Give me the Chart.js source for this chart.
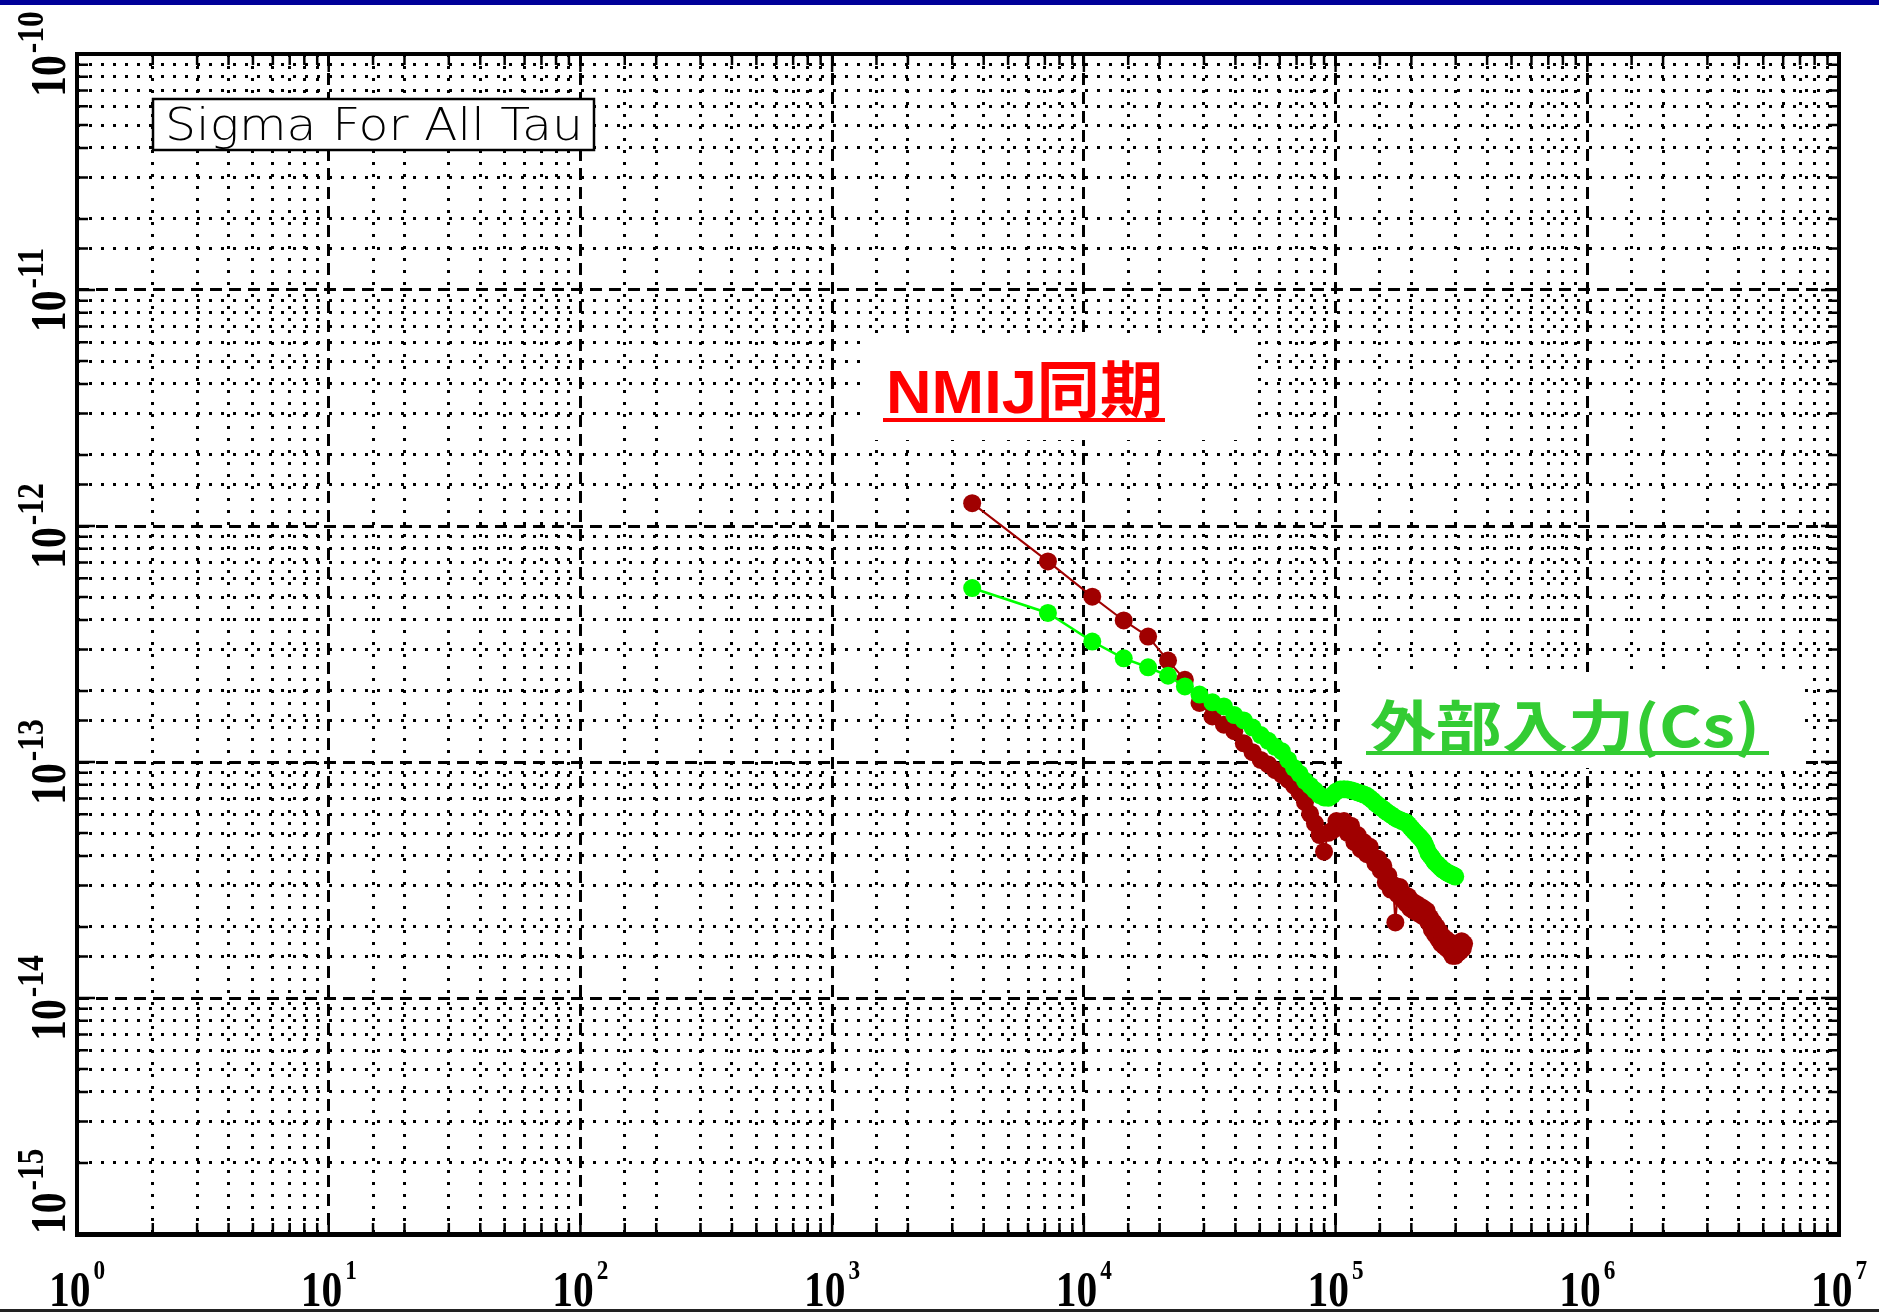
<!DOCTYPE html>
<html lang="ja">
<head>
<meta charset="UTF-8">
<title>Sigma For All Tau</title>
<script src="https://cdn.jsdelivr.net/npm/chart.js"></script>
<style>
  html, body { margin: 0; padding: 0; background: #fff; }
  #wrap { width: 1879px; height: 1312px; }
</style>
</head>
<body>
<div id="wrap"><canvas id="adev" width="1879" height="1312"></canvas></div>
<script>
// averaging time tau [s]
const tau = [3600, 7200, 10800, 14400, 18000, 21600, 25200, 28800, 32400, 36000,
  39600, 43200, 46800, 50400, 54000, 57600, 61200, 64800, 68400, 72000,
  75600, 79200, 82800, 86400, 90000, 93600, 97200, 100800, 104400, 108000,
  111600, 115200, 118800, 122400, 126000, 129600, 133200, 136800, 140400, 144000,
  147600, 151200, 154800, 158400, 162000, 165600, 169200, 172800, 176400, 180000,
  183600, 187200, 190800, 194400, 198000, 201600, 205200, 208800, 212400, 216000,
  219600, 223200, 226800, 230400, 234000, 237600, 241200, 244800, 248400, 252000,
  255600, 259200, 262800, 266400, 270000, 273600, 277200, 280800, 284400, 288000,
  291600, 295200, 298800, 302400, 306000, 309600, 313200, 316800, 320400, 324000];

// NMIJ同期 (dark red)
const sigmaNmij = [1.25e-12, 7.08e-13, 5.02e-13, 3.98e-13, 3.40e-13, 2.69e-13, 2.23e-13, 1.78e-13, 1.56e-13, 1.44e-13,
  1.35e-13, 1.20e-13, 1.10e-13, 1.02e-13, 9.77e-14, 9.23e-14, 8.83e-14, 8.41e-14, 7.94e-14, 7.41e-14,
  6.76e-14, 6.03e-14, 5.50e-14, 4.90e-14, 4.17e-14, 5.01e-14, 5.13e-14, 5.62e-14, 5.37e-14, 5.62e-14,
  5.01e-14, 5.37e-14, 4.57e-14, 4.90e-14, 4.27e-14, 4.57e-14, 4.07e-14, 4.37e-14, 3.98e-14, 3.72e-14,
  3.89e-14, 3.47e-14, 3.63e-14, 3.09e-14, 3.31e-14, 2.88e-14, 3.02e-14, 2.09e-14, 2.75e-14, 2.95e-14,
  2.63e-14, 2.75e-14, 2.51e-14, 2.69e-14, 2.40e-14, 2.57e-14, 2.34e-14, 2.51e-14, 2.29e-14, 2.45e-14,
  2.24e-14, 2.40e-14, 2.19e-14, 2.34e-14, 2.09e-14, 2.19e-14, 1.95e-14, 2.09e-14, 1.86e-14, 2.00e-14,
  1.78e-14, 1.91e-14, 1.70e-14, 1.82e-14, 1.66e-14, 1.78e-14, 1.62e-14, 1.74e-14, 1.58e-14, 1.70e-14,
  1.51e-14, 1.62e-14, 1.51e-14, 1.66e-14, 1.55e-14, 1.70e-14, 1.58e-14, 1.74e-14, 1.62e-14, 1.70e-14];

// 外部入力(Cs) (green)
const sigmaCs = [5.46e-13, 4.28e-13, 3.24e-13, 2.75e-13, 2.52e-13, 2.32e-13, 2.09e-13, 1.93e-13, 1.79e-13, 1.72e-13,
  1.58e-13, 1.50e-13, 1.40e-13, 1.30e-13, 1.23e-13, 1.16e-13, 1.11e-13, 1.02e-13, 9.44e-14, 8.91e-14,
  8.32e-14, 7.94e-14, 7.59e-14, 7.24e-14, 7.08e-14, 7.05e-14, 7.24e-14, 7.50e-14, 7.64e-14, 7.67e-14,
  7.64e-14, 7.60e-14, 7.52e-14, 7.43e-14, 7.36e-14, 7.28e-14, 7.19e-14, 7.03e-14, 6.87e-14, 6.70e-14,
  6.56e-14, 6.43e-14, 6.31e-14, 6.18e-14, 6.08e-14, 5.98e-14, 5.89e-14, 5.79e-14, 5.73e-14, 5.68e-14,
  5.62e-14, 5.58e-14, 5.55e-14, 5.43e-14, 5.31e-14, 5.19e-14, 5.08e-14, 4.99e-14, 4.89e-14, 4.80e-14,
  4.70e-14, 4.61e-14, 4.45e-14, 4.28e-14, 4.11e-14, 4.02e-14, 3.94e-14, 3.85e-14, 3.76e-14, 3.71e-14,
  3.66e-14, 3.60e-14, 3.55e-14, 3.50e-14, 3.47e-14, 3.44e-14, 3.40e-14, 3.38e-14, 3.36e-14, 3.33e-14,
  3.32e-14, 3.30e-14, 3.27e-14];

const seriesNames = ['NMIJ同期', '外部入力(Cs)'];
const xTickLabels = ['10^0', '10^1', '10^2', '10^3', '10^4', '10^5', '10^6', '10^7'];
const yTickLabels = ['10^-10', '10^-11', '10^-12', '10^-13', '10^-14', '10^-15'];
const boxTitle = 'Sigma For All Tau';

// ---- helpers ----
const isMajor = v => Math.abs(Math.log10(v) - Math.round(Math.log10(v))) < 1e-6;
const labelFor = (labels, v) => labels.find(l => parseInt(l.split('^')[1]) === Math.round(Math.log10(v)));

const SX = 0.83;
const BASE_FONT = 'bold 50px "Liberation Serif", serif';
const X_SUP = { font: 'bold 28px "Liberation Serif", serif', raise: 27, gap: 3 };
const Y_SUP = { font: 'bold 38px "Liberation Serif", serif', raise: 22, gap: 2 };

function measurePow(ctx, lbl, sup) {
  const parts = lbl.split('^');
  const b = parts[0], es = parts[1];
  ctx.font = BASE_FONT;
  const wb = ctx.measureText(b).width * SX;
  ctx.font = sup.font;
  const we = ctx.measureText(es).width * SX;
  return { b, es, wb, we, total: wb + sup.gap + we };
}
function paintPow(ctx, m, sup) {
  ctx.save(); ctx.scale(SX, 1); ctx.font = BASE_FONT; ctx.fillText(m.b, 0, 0); ctx.restore();
  ctx.save(); ctx.translate(m.wb + sup.gap, -sup.raise); ctx.scale(SX, 1);
  ctx.font = sup.font; ctx.fillText(m.es, 0, 0); ctx.restore();
}
function fitText(ctx, text, font, color, x, base, width) {
  ctx.save();
  ctx.font = font;
  const w = ctx.measureText(text).width;
  ctx.translate(x, base);
  ctx.scale(width / w, 1);
  ctx.fillStyle = color;
  ctx.textBaseline = 'alphabetic';
  ctx.fillText(text, 0, 0);
  ctx.restore();
}

// white boxes + annotations behind the data
const notes = {
  id: 'notes',
  beforeDatasetsDraw(chart) {
    const ctx = chart.ctx;
    ctx.save();
    ctx.fillStyle = '#fff';
    ctx.fillRect(866, 335, 392, 105);
    ctx.fillRect(1342, 672, 460, 96);

    fitText(ctx, seriesNames[0], 'bold 62px "Liberation Sans", "Noto Sans CJK JP", sans-serif', '#ff0000', 886, 413, 277);
    ctx.fillStyle = '#ff0000';
    ctx.fillRect(883, 418, 282, 4);

    fitText(ctx, seriesNames[1], 'bold 56px "Noto Sans CJK JP", sans-serif', '#33cc33', 1370, 747, 390);
    ctx.fillStyle = '#33cc33';
    ctx.fillRect(1366, 751, 403, 4);
    ctx.restore();
  }
};

// frame, inner ticks, tick labels, title box, page bars
const frame = {
  id: 'frame',
  afterDatasetsDraw(chart) {
    const { ctx, chartArea: a, scales: { x, y } } = chart;
    ctx.save();
    ctx.strokeStyle = '#000';
    ctx.lineWidth = 2.5;
    ctx.beginPath();
    x.ticks.forEach(t => {
      const px = x.getPixelForValue(t.value);
      const len = isMajor(t.value) ? 18 : 11;
      ctx.moveTo(px, a.bottom); ctx.lineTo(px, a.bottom - len);
      ctx.moveTo(px, a.top); ctx.lineTo(px, a.top + len);
    });
    y.ticks.forEach(t => {
      const py = y.getPixelForValue(t.value);
      const len = isMajor(t.value) ? 18 : 11;
      ctx.moveTo(a.left, py); ctx.lineTo(a.left + len, py);
      ctx.moveTo(a.right, py); ctx.lineTo(a.right - len, py);
    });
    ctx.stroke();

    ctx.lineWidth = 4;
    ctx.strokeRect(a.left, a.top, a.right - a.left, a.bottom - a.top);
    ctx.fillStyle = '#000';
    ctx.fillRect(a.left - 2, a.bottom - 1, a.right - a.left + 4, 4);

    // x tick labels
    ctx.fillStyle = '#000';
    ctx.textBaseline = 'alphabetic';
    x.ticks.filter(t => isMajor(t.value)).forEach(t => {
      const lbl = labelFor(xTickLabels, t.value);
      if (!lbl) return;
      const m = measurePow(ctx, lbl, X_SUP);
      const px = x.getPixelForValue(t.value);
      ctx.save();
      ctx.translate(px - m.total / 2, 1306);
      paintPow(ctx, m, X_SUP);
      ctx.restore();
    });
    // y tick labels, rotated
    y.ticks.filter(t => isMajor(t.value)).forEach(t => {
      const lbl = labelFor(yTickLabels, t.value);
      if (!lbl) return;
      const m = measurePow(ctx, lbl, Y_SUP);
      const py = y.getPixelForValue(t.value);
      const start = Math.min(py + m.total / 2, a.bottom);
      ctx.save();
      ctx.translate(65, start);
      ctx.rotate(-Math.PI / 2);
      paintPow(ctx, m, Y_SUP);
      ctx.restore();
    });

    // title box
    ctx.fillStyle = '#fff';
    ctx.fillRect(153, 99, 441, 51);
    ctx.lineWidth = 2.5;
    ctx.strokeRect(153, 99, 441, 51);
    fitText(ctx, boxTitle, '200 44px "DejaVu Sans", sans-serif', '#000', 165, 140, 418);

    // page bars
    ctx.fillStyle = '#000099';
    ctx.fillRect(0, 0, chart.width, 5);
    ctx.fillStyle = '#222';
    ctx.fillRect(0, chart.height - 3, chart.width, 3);
    ctx.restore();
  }
};

const gridStyle = {
  display: true,
  drawTicks: false,
  color: '#000',
  lineWidth: 3
};
const gridDash = c => (c.tick && isMajor(c.tick.value)) ? [12, 7] : [3, 9];

new Chart(document.getElementById('adev'), {
  type: 'line',
  data: {
    datasets: [
      {
        label: seriesNames[1],
        data: sigmaCs.map((s, i) => ({ x: tau[i], y: s })),
        borderColor: '#00ff00',
        backgroundColor: '#00ff00',
        borderWidth: 2.5,
        pointRadius: 9,
        pointBorderWidth: 0,
        pointBackgroundColor: '#00ff00',
        tension: 0
      },
      {
        label: seriesNames[0],
        data: sigmaNmij.map((s, i) => ({ x: tau[i], y: s })),
        borderColor: '#a00000',
        backgroundColor: '#a00000',
        borderWidth: 2,
        pointRadius: 9,
        pointBorderWidth: 0,
        pointBackgroundColor: '#a00000',
        tension: 0
      }
    ]
  },
  options: {
    responsive: false,
    animation: false,
    devicePixelRatio: 1,
    layout: { padding: { left: 77, right: 40, top: 54, bottom: 78 } },
    plugins: { legend: { display: false }, tooltip: { enabled: false }, title: { display: false } },
    scales: {
      x: {
        type: 'logarithmic',
        min: 1, max: 1e7,
        ticks: { display: false },
        grid: gridStyle,
        border: { display: false, dash: gridDash }
      },
      y: {
        type: 'logarithmic',
        min: 1e-15, max: 1e-10,
        ticks: { display: false },
        grid: gridStyle,
        border: { display: false, dash: gridDash }
      }
    }
  },
  plugins: [notes, frame]
});
</script>
</body>
</html>
